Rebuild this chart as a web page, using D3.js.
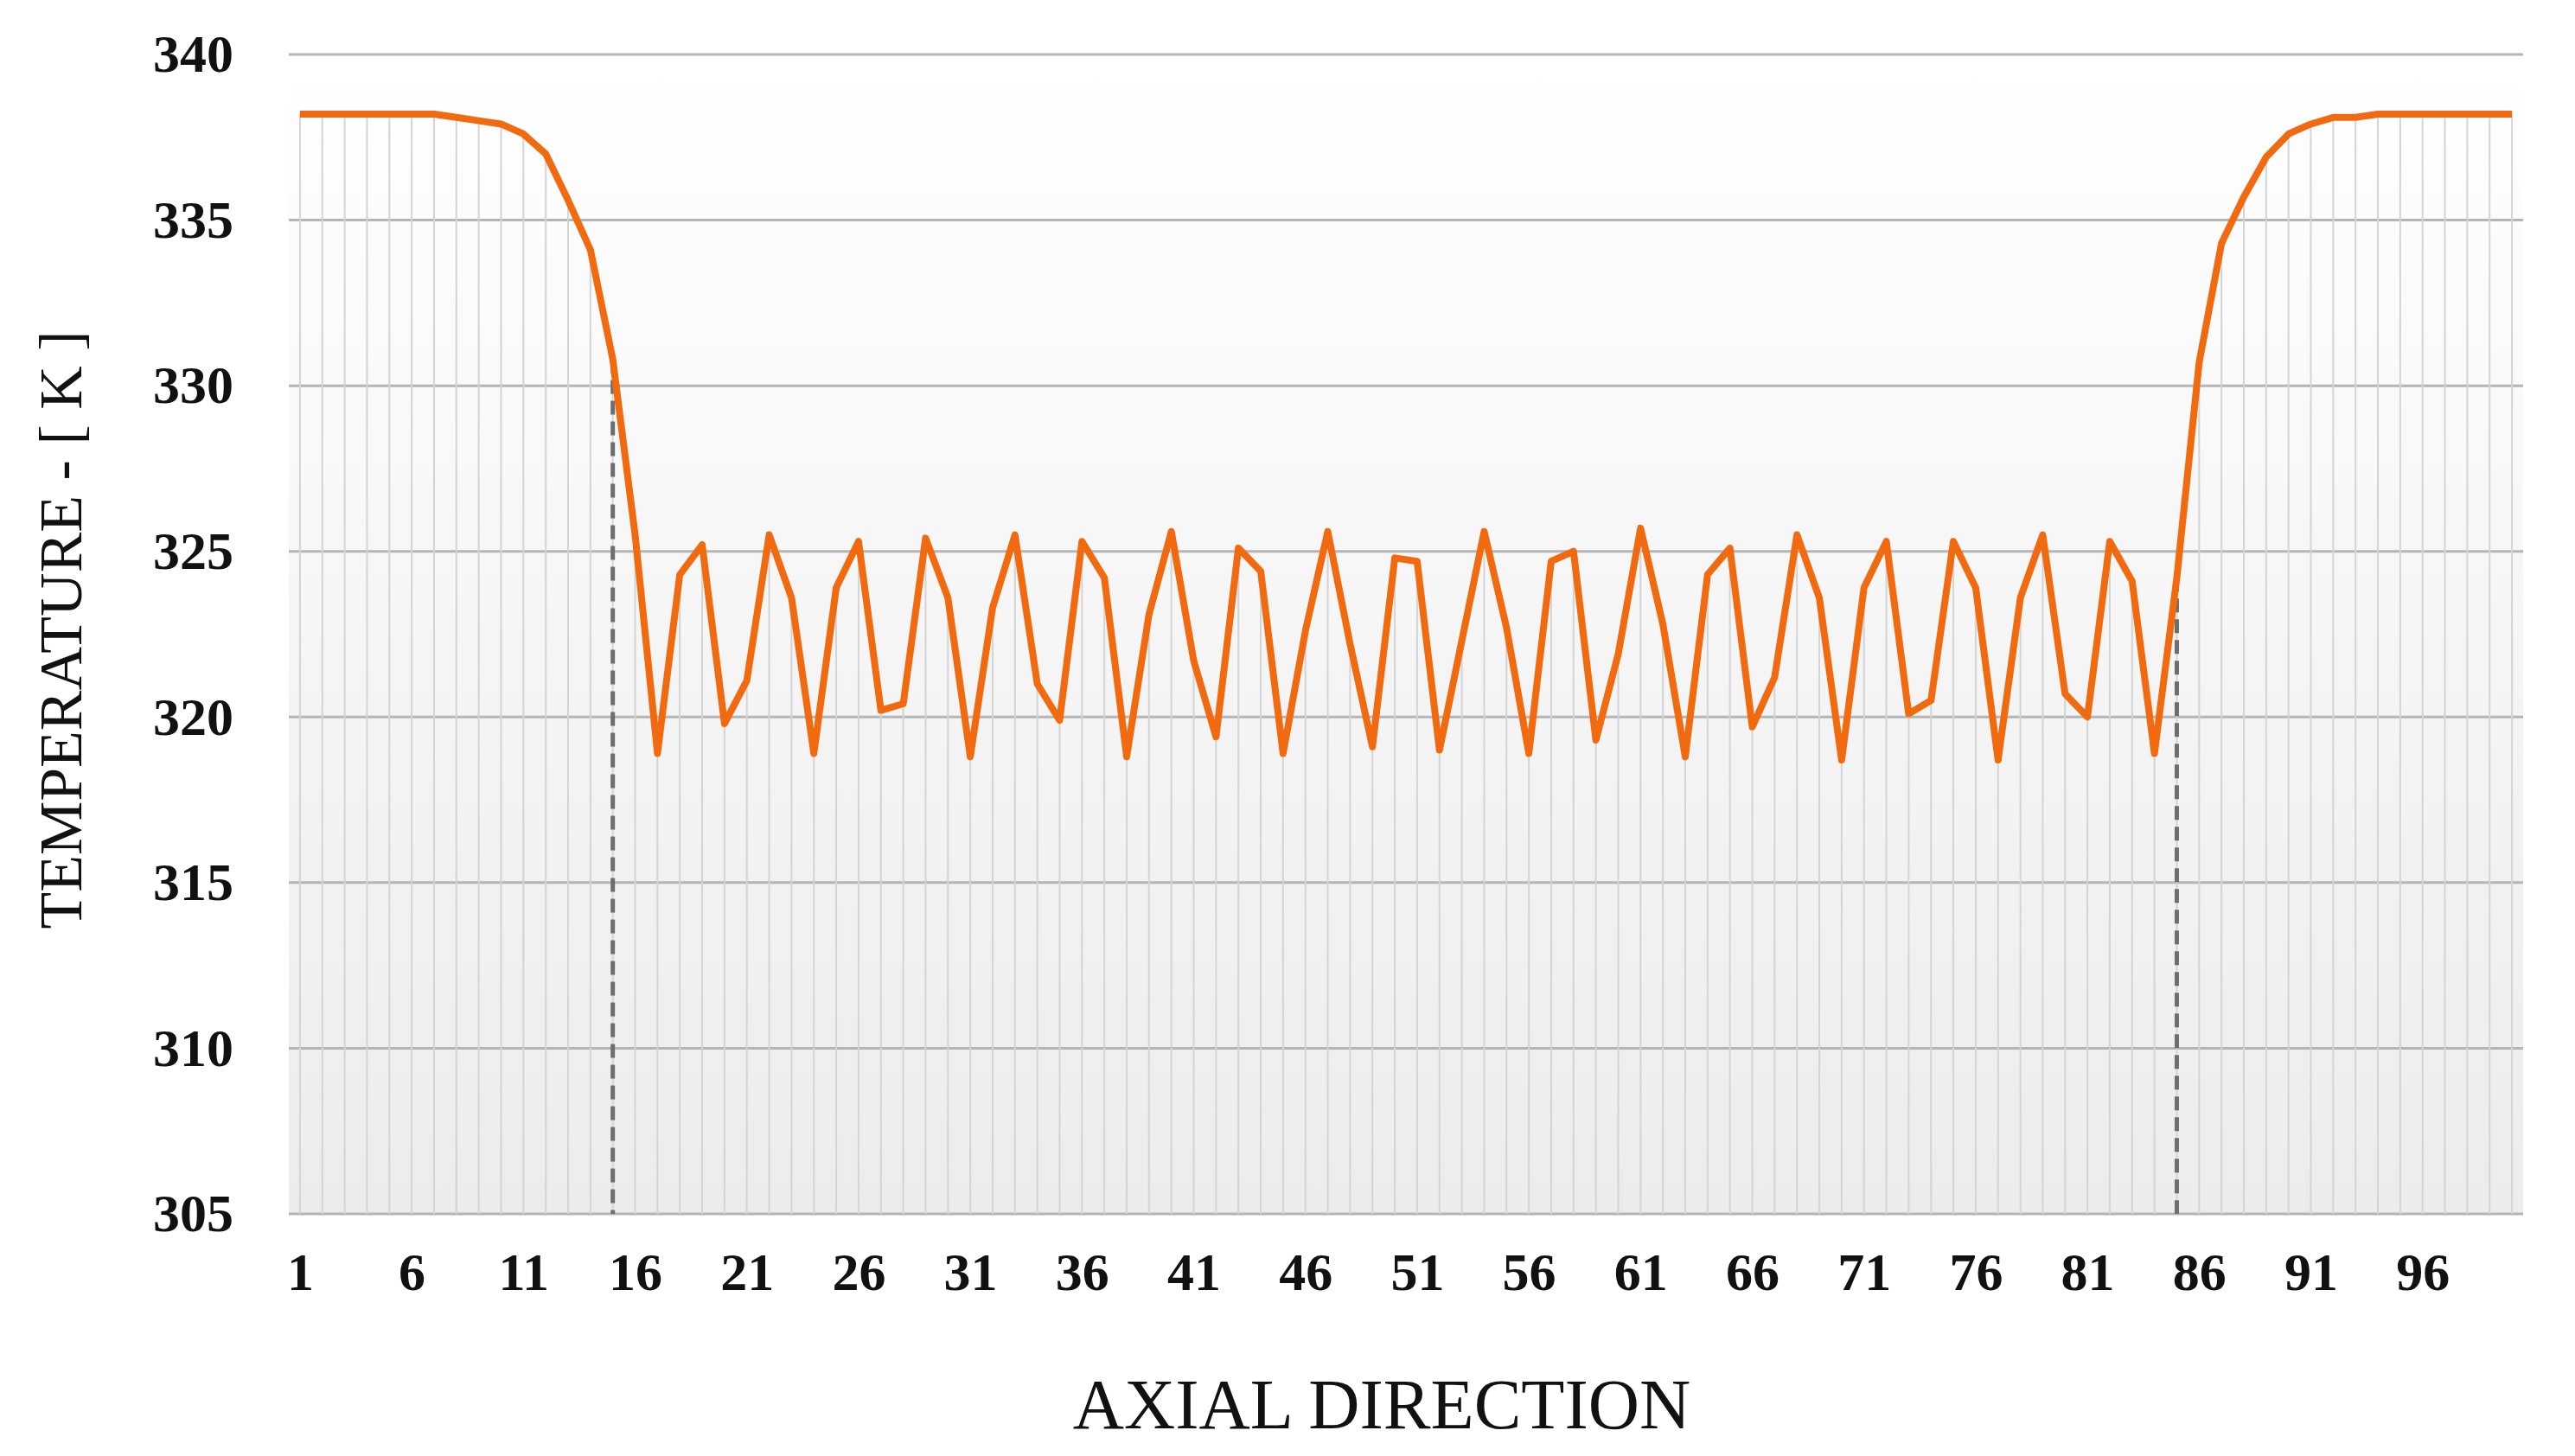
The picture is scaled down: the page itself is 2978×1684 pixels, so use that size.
<!DOCTYPE html>
<html>
<head>
<meta charset="utf-8">
<script src="https://cdn.jsdelivr.net/npm/d3@7"></script>
<style>
  body { margin: 0; background: #fff; }
  svg text { font-family: "Liberation Serif", "Times New Roman", serif; }
</style>
</head>
<body>
<div class="chart"></div>
<script>
'use strict';

const W = 2978, H = 1684;
const margin = {top: 63, right: 60, bottom: 280, left: 334};
const width = W - margin.left - margin.right;
const height = H - margin.top - margin.bottom;

// axial positions 1..100
const positions = d3.range(1, 101);

const temperatures = [
    338.2, 338.2, 338.2, 338.2, 338.2, 338.2, 338.2, 338.1, 338.0, 337.9,
    337.6, 337.0, 335.6, 334.1, 330.8, 325.5, 318.9, 324.3, 325.2, 319.8,
    321.1, 325.5, 323.6, 318.9, 323.9, 325.3, 320.2, 320.4, 325.4, 323.6,
    318.8, 323.3, 325.5, 321.0, 319.9, 325.3, 324.2, 318.8, 323.1, 325.6,
    321.7, 319.4, 325.1, 324.4, 318.9, 322.6, 325.6, 322.2, 319.1, 324.8,
    324.7, 319.0, 322.3, 325.6, 322.7, 318.9, 324.7, 325.0, 319.3, 321.9,
    325.7, 322.8, 318.8, 324.3, 325.1, 319.7, 321.2, 325.5, 323.6, 318.7,
    323.9, 325.3, 320.1, 320.5, 325.3, 323.9, 318.7, 323.6, 325.5, 320.7,
    320.0, 325.3, 324.1, 318.9, 324.2, 330.7, 334.3, 335.7, 336.9, 337.6,
    337.9, 338.1, 338.1, 338.2, 338.2, 338.2, 338.2, 338.2, 338.2, 338.2
];

const yTicks = [305, 310, 315, 320, 325, 330, 335, 340];
const xTickLabels = [1, 6, 11, 16, 21, 26, 31, 36, 41, 46, 51, 56, 61, 66, 71, 76, 81, 86, 91, 96];

// dashed markers at the ends of the zone
const markerPositions = [15, 85];

const data = positions.map((p, i) => ({pos: p, value: temperatures[i]}));

const xScale = d3.scalePoint()
    .domain(positions)
    .range([0, width])
    .padding(0.5);

const yScale = d3.scaleLinear()
    .domain([305, 340])
    .range([height, 0]);

const svg = d3.select('.chart').append('svg')
    .attr('width', W)
    .attr('height', H);

const defs = svg.append('defs');
const grad = defs.append('linearGradient')
    .attr('id', 'bg')
    .attr('x1', 0).attr('y1', 0).attr('x2', 0).attr('y2', 1);
grad.append('stop').attr('offset', '0%').attr('stop-color', '#ffffff');
grad.append('stop').attr('offset', '100%').attr('stop-color', '#ececec');

const g = svg.append('g')
    .attr('transform', `translate(${margin.left},${margin.top})`);

g.append('rect')
    .attr('width', width)
    .attr('height', height)
    .attr('fill', 'url(#bg)');

// horizontal grid
g.append('g')
    .selectAll('line')
    .data(yTicks)
    .join('line')
    .attr('x1', 0)
    .attr('x2', width)
    .attr('y1', d => yScale(d))
    .attr('y2', d => yScale(d))
    .attr('stroke', '#b5b5b5')
    .attr('stroke-width', 3);

// drop lines
g.append('g')
    .selectAll('line')
    .data(data)
    .join('line')
    .attr('x1', d => xScale(d.pos))
    .attr('x2', d => xScale(d.pos))
    .attr('y1', d => yScale(d.value))
    .attr('y2', height)
    .attr('stroke', '#d4d4d4')
    .attr('stroke-width', 2);

// dashed markers
g.append('g')
    .selectAll('line')
    .data(data.filter(d => markerPositions.includes(d.pos)))
    .join('line')
    .attr('x1', d => xScale(d.pos))
    .attr('x2', d => xScale(d.pos))
    .attr('y1', d => yScale(d.value))
    .attr('y2', height)
    .attr('stroke', '#6e6e6e')
    .attr('stroke-width', 5)
    .attr('stroke-dasharray', '16,8');

// temperature line
g.append('path')
    .datum(data)
    .attr('fill', 'none')
    .attr('stroke', '#f26a10')
    .attr('stroke-width', 8)
    .attr('stroke-linejoin', 'round')
    .attr('d', d3.line()
        .x(d => xScale(d.pos))
        .y(d => yScale(d.value)));

// axes
const xAxis = g.append('g')
    .attr('transform', `translate(0,${height})`)
    .call(d3.axisBottom(xScale).tickValues(xTickLabels).tickSize(0).tickPadding(44));
xAxis.select('.domain').remove();
xAxis.selectAll('text')
    .attr('font-size', 62)
    .attr('font-weight', 'bold')
    .attr('fill', '#111')
    .attr('dy', '0.71em');

const yAxis = g.append('g')
    .call(d3.axisLeft(yScale).tickValues(yTicks).tickSize(0).tickPadding(64));
yAxis.select('.domain').remove();
yAxis.selectAll('text')
    .attr('font-size', 62)
    .attr('font-weight', 'bold')
    .attr('fill', '#111');

// axis titles
svg.append('text')
    .attr('x', 1598)
    .attr('y', 1652)
    .attr('text-anchor', 'middle')
    .attr('font-size', 82)
    .attr('fill', '#111')
    .text('AXIAL DIRECTION');

svg.append('text')
    .attr('transform', `translate(94,${margin.top + height / 2 - 5}) rotate(-90)`)
    .attr('text-anchor', 'middle')
    .attr('font-size', 70)
    .attr('fill', '#111')
    .text('TEMPERATURE - [ K ]');
</script>
</body>
</html>
